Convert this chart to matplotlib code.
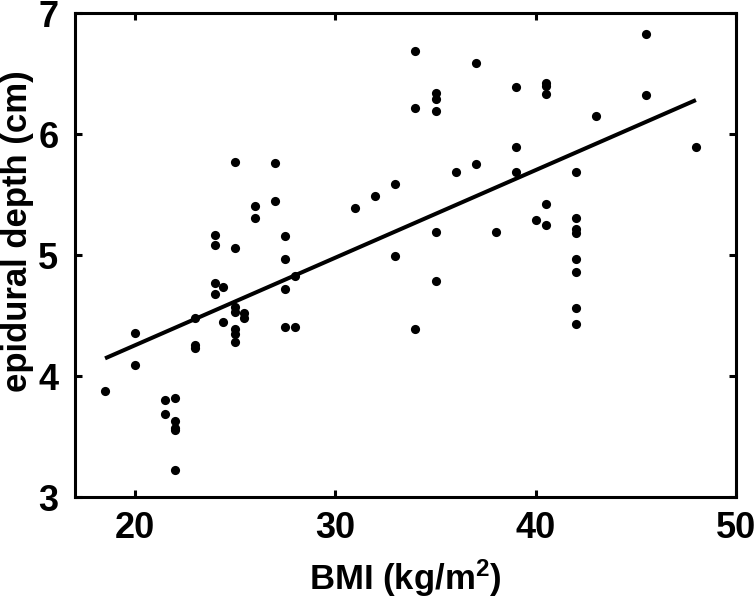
import matplotlib
matplotlib.use("Agg")
import matplotlib.pyplot as plt
import numpy as np

plt.rcParams['font.family'] = ['Liberation Sans', 'DejaVu Sans']
plt.rcParams['font.weight'] = 'bold'
plt.rcParams['mathtext.fontset'] = 'custom'
plt.rcParams['mathtext.rm'] = 'Liberation Sans:bold'
plt.rcParams['mathtext.bf'] = 'Liberation Sans:bold'
plt.rcParams['mathtext.it'] = 'Liberation Sans:bold'

bmi = [18.5,
       20, 20,
       21.5, 21.5,
       22, 22, 22, 22, 22,
       23, 23, 23,
       24, 24, 24, 24,
       24.4, 24.4,
       25, 25, 25, 25, 25, 25, 25,
       25.45, 25.45,
       26, 26,
       27, 27,
       27.5, 27.5, 27.5, 27.5,
       28, 28,
       31, 32,
       33, 33,
       34, 34, 34,
       35, 35, 35, 35, 35,
       36,
       37, 37,
       38,
       39, 39, 39,
       40,
       40.5, 40.5, 40.5, 40.5, 40.5,
       42, 42, 42, 42, 42, 42, 42, 42,
       43,
       45.5, 45.5,
       48]
depth = [3.88,
         4.36, 4.09,
         3.80, 3.69,
         3.815, 3.63, 3.57, 3.555, 3.22,
         4.48, 4.26, 4.23,
         5.17, 5.08, 4.77, 4.675,
         4.74, 4.45,
         5.77, 5.06, 4.57, 4.53, 4.39, 4.35, 4.28,
         4.52, 4.48,
         5.405, 5.31,
         5.76, 5.45,
         5.155, 4.97, 4.72, 4.405,
         4.83, 4.405,
         5.39, 5.49,
         5.59, 4.99,
         6.69, 6.22, 4.39,
         6.34, 6.29, 6.19, 5.19, 4.79,
         5.69,
         6.59, 5.755,
         5.19,
         6.39, 5.89, 5.69,
         5.29,
         6.42, 6.40, 6.33, 5.42, 5.25,
         5.69, 5.31, 5.22, 5.18, 4.97, 4.86, 4.56, 4.43,
         6.15,
         6.83, 6.32,
         5.89]

fit_slope = 0.0724
fit_intercept = 2.807

x_ticks = [20, 30, 40, 50]
y_ticks = [3, 4, 5, 6, 7]

fig = plt.figure(figsize=(7.56, 6.01), dpi=100)
ax = fig.add_axes([0.0992, 0.173, 0.8743, 0.805])

ax.plot(bmi, depth, 'o', color='black', markersize=6.6, markeredgewidth=0)
xl = np.array([min(bmi), max(bmi)])
ax.plot(xl, fit_slope * xl + fit_intercept, '-', color='black', linewidth=2.9,
        solid_capstyle='butt')

ax.set_xlim(17, 50)
ax.set_ylim(3, 7)
ax.set_xticks(x_ticks)
ax.set_yticks(y_ticks)
ax.set_xticklabels([str(t) for t in x_ticks])
ax.set_yticklabels([str(t) for t in y_ticks])

for s in ax.spines.values():
    s.set_linewidth(2.2)
ax.tick_params(direction='in', length=5, width=2.2, top=True, right=True,
               labelsize=26)
ax.tick_params(axis='x', pad=10)
ax.tick_params(axis='y', pad=12)
for lab in ax.get_xticklabels() + ax.get_yticklabels():
    lab.set_fontweight('bold')

ax.set_xlabel(r'BMI (kg/m$^{2}$)', fontsize=25, fontweight='bold', labelpad=8)
ax.set_ylabel('epidural depth (cm)', fontsize=25, fontweight='bold')
ax.yaxis.set_label_coords(-0.062, 0.55)

fig.savefig('out.png', dpi=100)
